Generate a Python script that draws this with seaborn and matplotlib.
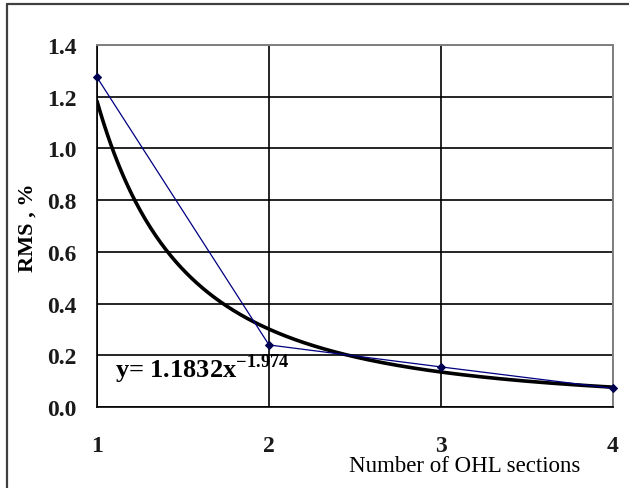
import numpy as np
import pandas as pd
import matplotlib
matplotlib.use("Agg")
import matplotlib.pyplot as plt
from matplotlib.lines import Line2D
import seaborn as sns

# Measured RMS error vs number of overhead-line sections
sections = [1, 2, 3, 4]
rms_pct = [1.275, 0.24, 0.155, 0.072]

# Power-law trendline coefficients
coef_a = 1.1832
coef_b = -1.974

y_ticks = [0.0, 0.2, 0.4, 0.6, 0.8, 1.0, 1.2, 1.4]
x_ticks = [1, 2, 3, 4]

sns.set_theme(style="white")
plt.rcParams["font.family"] = ["Liberation Serif", "DejaVu Serif"]
plt.rcParams["mathtext.fontset"] = "custom"
plt.rcParams["mathtext.rm"] = "Liberation Serif"
plt.rcParams["mathtext.bf"] = "Liberation Serif:bold"

fig = plt.figure(figsize=(6.29, 4.89), dpi=100)
L, R, T, B = 97, 613, 46, 408
ax = fig.add_axes([L / 629, 1 - B / 489, (R - L) / 629, (B - T) / 489])

xs = np.linspace(1, 4, 300)
trend = pd.DataFrame({"x": xs, "y": coef_a * xs ** coef_b})
data = pd.DataFrame({"x": sections, "y": rms_pct})

sns.lineplot(data=trend, x="x", y="y", ax=ax, color="black", linewidth=2.6, zorder=3)
sns.lineplot(data=data, x="x", y="y", ax=ax, color="#000080", linewidth=0.9,
             marker="D", markersize=4.5, markeredgecolor="#000050",
             markerfacecolor="#000050", zorder=4, clip_on=False)

ax.set_xlim(1, 4)
ax.set_ylim(0, 1.4)
ax.set_yticks(y_ticks)
ax.set_yticklabels([f"{v:.1f}" for v in y_ticks])
ax.set_xticks(x_ticks)
ax.set_xticklabels([str(v) for v in x_ticks])

ax.grid(True, color="black", linewidth=1.2)
ax.set_axisbelow(True)
for side in ["top", "right"]:
    ax.spines[side].set_color("#808080")
    ax.spines[side].set_linewidth(1.4)
for side in ["left", "bottom"]:
    ax.spines[side].set_color("black")
    ax.spines[side].set_linewidth(1.2)

ax.tick_params(axis="both", which="both", direction="out", length=6.5, width=1.2,
               color="black", labelsize=17, labelcolor="#1a1a1a")
ax.tick_params(axis="y", pad=8)
ax.tick_params(axis="x", pad=14)
for lab in ax.get_yticklabels() + ax.get_xticklabels():
    lab.set_fontweight("bold")

ax.set_xlabel("Number of OHL sections", fontsize=16.5, color="black")
ax.xaxis.set_label_coords((465 - L) / (R - L), -(467 - B) / (B - T))
ax.xaxis.label.set_va("center")
ax.set_ylabel("RMS , %", fontsize=16, color="black", fontweight="bold")
ax.yaxis.set_label_coords(-(L - 28) / (R - L), (B - 228) / (B - T))
ax.yaxis.label.set_va("center")

ax.text(1.105, 0.15, "y= 1.1832x$^{\\mathbf{-1.974}}$", fontsize=19,
        color="black", fontweight="bold", ha="left", va="center", zorder=5)

# Outer chart frame (left and top edges)
fig.add_artist(Line2D([7 / 629, 7 / 629], [0, 1 - 5 / 489], transform=fig.transFigure,
                      color="#404040", linewidth=1.6))
fig.add_artist(Line2D([7 / 629, 1], [1 - 5 / 489, 1 - 5 / 489], transform=fig.transFigure,
                      color="#404040", linewidth=1.6))

fig.savefig("out.png", dpi=100)
